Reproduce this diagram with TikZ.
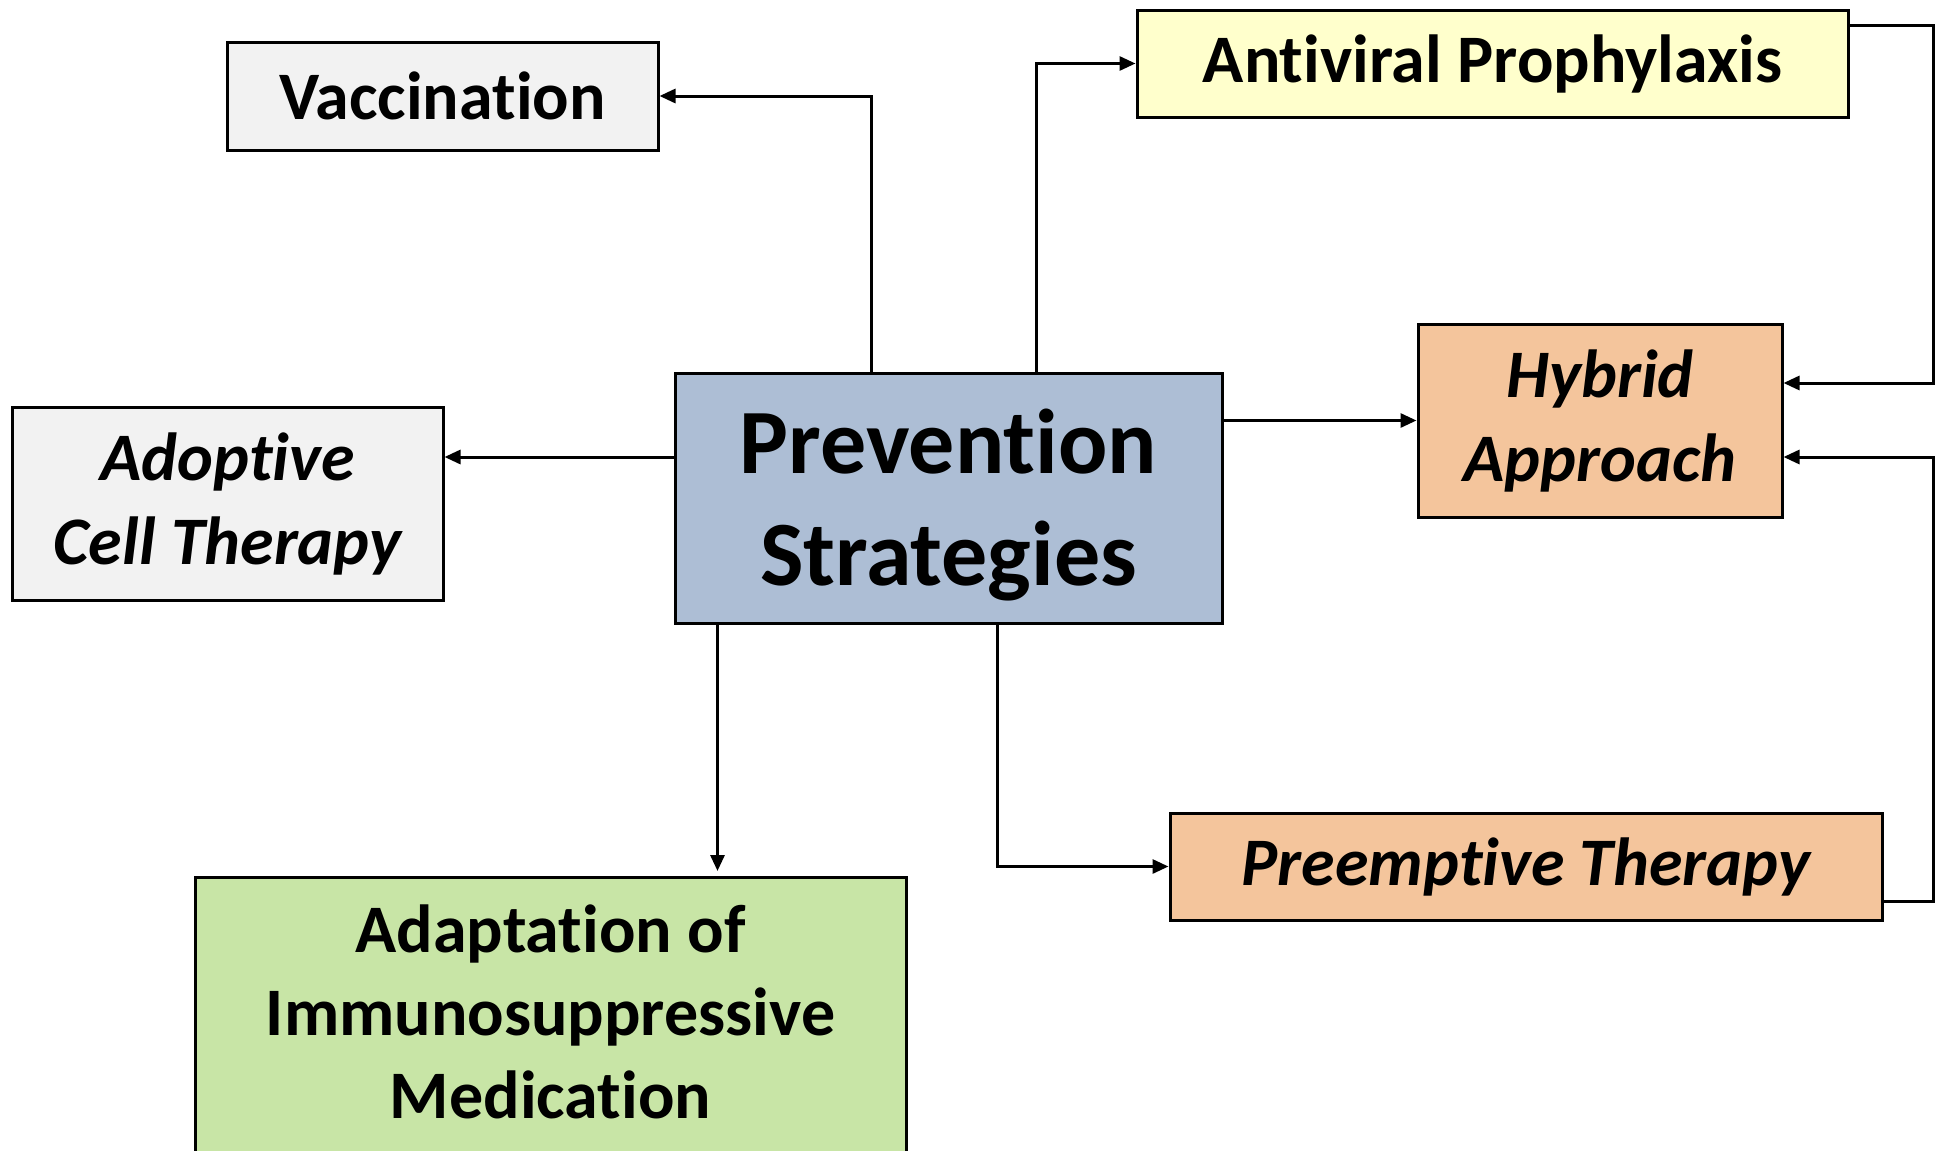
\documentclass[tikz,border=0pt]{standalone}
\usepackage{fontspec}
\setmainfont{Carlito}[Ligatures={CommonOff,ContextualOff},Contextuals=AlternateOff]
\usetikzlibrary{arrows.meta,calc}
\definecolor{grayfill}{RGB}{242,242,242}
\definecolor{yellowfill}{RGB}{255,255,204}
\definecolor{bluefill}{RGB}{173,190,213}
\definecolor{orangefill}{RGB}{244,197,156}
\definecolor{greenfill}{RGB}{200,229,166}
\tikzset{
  boxstyle/.style={draw=black, line width=1.5pt, inner sep=0pt, align=center,
    font=\fontsize{34}{42}\selectfont\bfseries},
  txtstyle/.style={inner sep=0pt, align=center, font=\fontsize{34}{42}\selectfont\bfseries},
  conn/.style={line width=1.5pt, -{Triangle[length=8pt,width=7pt]}},
}
\begin{document}
\begin{tikzpicture}[x=0.5pt,y=-0.5pt]
\useasboundingbox (0,0) rectangle (1949,1151);
\node[boxstyle, fill=grayfill, minimum width=215.5pt, minimum height=54pt] (vacc) at (442.5,96) {Vaccination};
\node[boxstyle, fill=grayfill, minimum width=215.5pt, minimum height=96.5pt] (adopt) at (227.5,504) {\itshape Adoptive\\\itshape Cell Therapy};
\node[boxstyle, fill=bluefill, minimum width=273.5pt, minimum height=125pt] (prev) at (948.5,498) {};
\node[txtstyle, font=\fontsize{46}{56}\selectfont\bfseries] (prevtxt) at (948.5,505) {Prevention\\Strategies};
\node[boxstyle, fill=yellowfill, minimum width=355.5pt, minimum height=53.5pt] (anti) at (1492.5,63.5) {Antiviral Prophylaxis};
\node[boxstyle, fill=orangefill, minimum width=182pt, minimum height=96.5pt] (hyb) at (1600,420.5) {\itshape Hybrid\\\itshape Approach};
\node[boxstyle, fill=orangefill, minimum width=356pt, minimum height=53.5pt] (pre) at (1526,866.5) {\itshape Preemptive Therapy};
\node[boxstyle, fill=greenfill, minimum width=355.5pt, minimum height=154pt, anchor=north] (adapt) at (550.5,876) {};
\node[txtstyle, font=\fontsize{34}{41.5}\selectfont\bfseries] (adapttxt) at (550.5,1012) {Adaptation of\\Immunosuppressive\\Medication};
% connectors
\coordinate (v0) at ($(prev.north west)+(198,0)$);
\draw[conn] (v0) |- (vacc.east);
\coordinate (a0) at ($(prev.north west)+(363,0)$);
\draw[conn] (a0) |- (anti.west);
\coordinate (ad0) at ($(prev.west)+(0,-41)$);
\draw[conn] (ad0) -- (adopt.east |- ad0);
\draw[conn] (prev.east |- hyb.west) -- (hyb.west);
\coordinate (m0) at ($(prev.south west)+(44,0)$);
\coordinate (m1) at ($(m0 |- adapt.north)+(0,-5)$);
\draw[conn] (m0) -- (m1);
\coordinate (p0) at ($(prev.south west)+(324,0)$);
\draw[conn] (p0) |- (pre.west);
\coordinate (r1) at ($(anti.east)+(0,-38.5)$);
\coordinate (h1) at ($(hyb.east)+(0,-37.5)$);
\coordinate (rx) at (1933,0);
\draw[conn] (r1) -- (rx |- r1) -- (rx |- h1) -- (h1);
\coordinate (r2) at ($(pre.east)+(0,34.5)$);
\coordinate (h2) at ($(hyb.east)+(0,36.5)$);
\draw[conn] (r2) -- (rx |- r2) -- (rx |- h2) -- (h2);
\end{tikzpicture}
\end{document}
